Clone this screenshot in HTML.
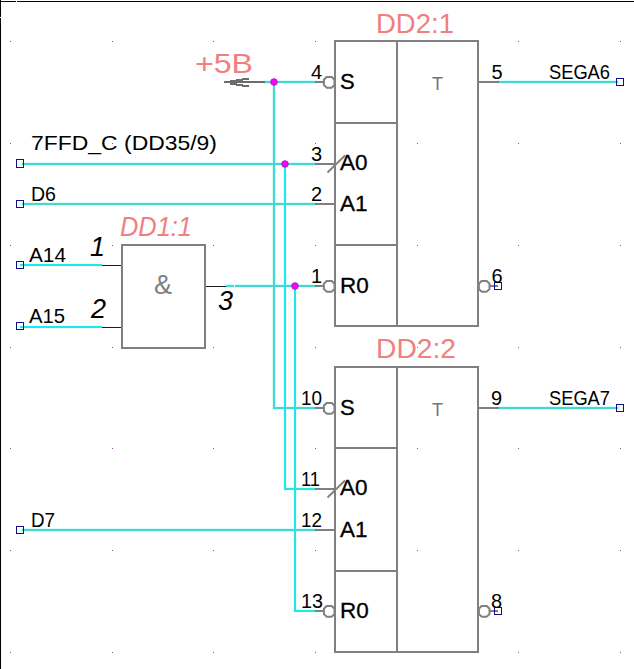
<!DOCTYPE html>
<html><head><meta charset="utf-8"><title>schematic</title>
<style>
html,body{margin:0;padding:0;background:#fff;}
body{width:634px;height:669px;overflow:hidden;font-family:"Liberation Sans",sans-serif;}
svg{display:block;font-family:"Liberation Sans",sans-serif;}
</style></head><body>
<svg width="634" height="669" viewBox="0 0 634 669">
<rect width="634" height="669" fill="#fff"/>
<line x1="265" y1="82" x2="315" y2="82" stroke="#d9fcfc" stroke-width="4" stroke-linecap="square"/>
<line x1="274" y1="82" x2="274" y2="408" stroke="#d9fcfc" stroke-width="4" stroke-linecap="square"/>
<line x1="274" y1="408" x2="315" y2="408" stroke="#d9fcfc" stroke-width="4" stroke-linecap="square"/>
<line x1="22" y1="164" x2="315" y2="164" stroke="#d9fcfc" stroke-width="4" stroke-linecap="square"/>
<line x1="285" y1="164" x2="285" y2="489" stroke="#ecfefe" stroke-width="4" stroke-linecap="square"/>
<line x1="285" y1="489" x2="315" y2="489" stroke="#ecfefe" stroke-width="4" stroke-linecap="square"/>
<line x1="22" y1="204" x2="315" y2="204" stroke="#d9fcfc" stroke-width="4" stroke-linecap="square"/>
<line x1="226" y1="286" x2="315" y2="286" stroke="#d9fcfc" stroke-width="4" stroke-linecap="square"/>
<line x1="295" y1="286" x2="295" y2="611" stroke="#ecfefe" stroke-width="4" stroke-linecap="square"/>
<line x1="295" y1="611" x2="315" y2="611" stroke="#ecfefe" stroke-width="4" stroke-linecap="square"/>
<line x1="22" y1="530" x2="315" y2="530" stroke="#d9fcfc" stroke-width="4" stroke-linecap="square"/>
<line x1="20" y1="265" x2="102" y2="265" stroke="#ecfefe" stroke-width="4" stroke-linecap="square"/>
<line x1="20" y1="327" x2="102" y2="327" stroke="#ecfefe" stroke-width="4" stroke-linecap="square"/>
<line x1="499" y1="82" x2="618" y2="82" stroke="#d9fcfc" stroke-width="4" stroke-linecap="square"/>
<line x1="499" y1="408" x2="618" y2="408" stroke="#d9fcfc" stroke-width="4" stroke-linecap="square"/>
<rect x="0" y="0" width="1" height="669" fill="#000"/>
<rect x="0" y="1" width="634" height="1" fill="#000"/>
<rect x="16" y="1" width="1" height="1" fill="#fff"/>
<rect x="0" y="17" width="1" height="1" fill="#fff"/>
<rect x="10" y="41" width="1" height="1" fill="#9440a4"/>
<rect x="10" y="143" width="1" height="1" fill="#9440a4"/>
<rect x="10" y="245" width="1" height="1" fill="#9440a4"/>
<rect x="10" y="347" width="1" height="1" fill="#9440a4"/>
<rect x="10" y="448" width="1" height="1" fill="#9440a4"/>
<rect x="10" y="550" width="1" height="1" fill="#9440a4"/>
<rect x="10" y="652" width="1" height="1" fill="#9440a4"/>
<rect x="112" y="41" width="1" height="1" fill="#9440a4"/>
<rect x="112" y="143" width="1" height="1" fill="#9440a4"/>
<rect x="112" y="245" width="1" height="1" fill="#9440a4"/>
<rect x="112" y="347" width="1" height="1" fill="#9440a4"/>
<rect x="112" y="448" width="1" height="1" fill="#9440a4"/>
<rect x="112" y="550" width="1" height="1" fill="#9440a4"/>
<rect x="112" y="652" width="1" height="1" fill="#9440a4"/>
<rect x="213" y="41" width="1" height="1" fill="#9440a4"/>
<rect x="213" y="143" width="1" height="1" fill="#9440a4"/>
<rect x="213" y="245" width="1" height="1" fill="#9440a4"/>
<rect x="213" y="347" width="1" height="1" fill="#9440a4"/>
<rect x="213" y="448" width="1" height="1" fill="#9440a4"/>
<rect x="213" y="550" width="1" height="1" fill="#9440a4"/>
<rect x="213" y="652" width="1" height="1" fill="#9440a4"/>
<rect x="315" y="41" width="1" height="1" fill="#9440a4"/>
<rect x="315" y="143" width="1" height="1" fill="#9440a4"/>
<rect x="315" y="245" width="1" height="1" fill="#9440a4"/>
<rect x="315" y="347" width="1" height="1" fill="#9440a4"/>
<rect x="315" y="448" width="1" height="1" fill="#9440a4"/>
<rect x="315" y="550" width="1" height="1" fill="#9440a4"/>
<rect x="315" y="652" width="1" height="1" fill="#9440a4"/>
<rect x="417" y="41" width="1" height="1" fill="#9440a4"/>
<rect x="417" y="143" width="1" height="1" fill="#9440a4"/>
<rect x="417" y="245" width="1" height="1" fill="#9440a4"/>
<rect x="417" y="347" width="1" height="1" fill="#9440a4"/>
<rect x="417" y="448" width="1" height="1" fill="#9440a4"/>
<rect x="417" y="550" width="1" height="1" fill="#9440a4"/>
<rect x="417" y="652" width="1" height="1" fill="#9440a4"/>
<rect x="518" y="41" width="1" height="1" fill="#9440a4"/>
<rect x="518" y="143" width="1" height="1" fill="#9440a4"/>
<rect x="518" y="245" width="1" height="1" fill="#9440a4"/>
<rect x="518" y="347" width="1" height="1" fill="#9440a4"/>
<rect x="518" y="448" width="1" height="1" fill="#9440a4"/>
<rect x="518" y="550" width="1" height="1" fill="#9440a4"/>
<rect x="518" y="652" width="1" height="1" fill="#9440a4"/>
<rect x="620" y="41" width="1" height="1" fill="#9440a4"/>
<rect x="620" y="143" width="1" height="1" fill="#9440a4"/>
<rect x="620" y="245" width="1" height="1" fill="#9440a4"/>
<rect x="620" y="347" width="1" height="1" fill="#9440a4"/>
<rect x="620" y="448" width="1" height="1" fill="#9440a4"/>
<rect x="620" y="550" width="1" height="1" fill="#9440a4"/>
<rect x="620" y="652" width="1" height="1" fill="#9440a4"/>
<line x1="265" y1="82" x2="315" y2="82" stroke="#48d6d3" stroke-width="2" shape-rendering="crispEdges"/>
<line x1="274" y1="81" x2="274" y2="409" stroke="#48d6d3" stroke-width="2" shape-rendering="crispEdges"/><line x1="274" y1="408" x2="315" y2="408" stroke="#48d6d3" stroke-width="2" shape-rendering="crispEdges"/>
<line x1="22" y1="164" x2="315" y2="164" stroke="#48d6d3" stroke-width="2" shape-rendering="crispEdges"/>
<line x1="285" y1="163" x2="285" y2="490" stroke="#1fe8ea" stroke-width="2" shape-rendering="crispEdges"/><line x1="285" y1="489" x2="315" y2="489" stroke="#1fe8ea" stroke-width="2" shape-rendering="crispEdges"/>
<line x1="22" y1="204" x2="315" y2="204" stroke="#48d6d3" stroke-width="2" shape-rendering="crispEdges"/>
<line x1="226" y1="286" x2="315" y2="286" stroke="#48d6d3" stroke-width="2" shape-rendering="crispEdges"/>
<line x1="295" y1="285" x2="295" y2="612" stroke="#1fe8ea" stroke-width="2" shape-rendering="crispEdges"/><line x1="295" y1="611" x2="315" y2="611" stroke="#1fe8ea" stroke-width="2" shape-rendering="crispEdges"/>
<line x1="22" y1="530" x2="315" y2="530" stroke="#48d6d3" stroke-width="2" shape-rendering="crispEdges"/>
<line x1="20" y1="265" x2="102" y2="265" stroke="#1fe8ea" stroke-width="2" shape-rendering="crispEdges"/>
<line x1="20" y1="327" x2="102" y2="327" stroke="#1fe8ea" stroke-width="2" shape-rendering="crispEdges"/>
<line x1="499" y1="82" x2="618" y2="82" stroke="#48d6d3" stroke-width="2" shape-rendering="crispEdges"/>
<line x1="499" y1="408" x2="618" y2="408" stroke="#48d6d3" stroke-width="2" shape-rendering="crispEdges"/>
<rect x="335" y="41" width="143" height="285" fill="none" stroke="#808080" stroke-width="2" shape-rendering="crispEdges"/><line x1="397" y1="41" x2="397" y2="326" stroke="#808080" stroke-width="2" shape-rendering="crispEdges"/><line x1="335" y1="123" x2="397" y2="123" stroke="#808080" stroke-width="2" shape-rendering="crispEdges"/><line x1="335" y1="245" x2="397" y2="245" stroke="#808080" stroke-width="2" shape-rendering="crispEdges"/><line x1="315" y1="82" x2="324" y2="82" stroke="#808080" stroke-width="2" shape-rendering="crispEdges"/><polygon points="334.50,79.75 331.80,77.05 326.60,77.05 323.90,79.75 323.90,84.95 326.60,87.65 331.80,87.65 334.50,84.95" fill="#fff" stroke="#808080" stroke-width="2" stroke-linejoin="round"/><line x1="315" y1="164" x2="335" y2="164" stroke="#808080" stroke-width="2" shape-rendering="crispEdges"/><line x1="327.5" y1="172.5" x2="345" y2="155.5" stroke="#808080" stroke-width="1.9"/><line x1="315" y1="204" x2="335" y2="204" stroke="#808080" stroke-width="2" shape-rendering="crispEdges"/><line x1="315" y1="286" x2="324" y2="286" stroke="#808080" stroke-width="2" shape-rendering="crispEdges"/><polygon points="334.50,283.75 331.80,281.05 326.60,281.05 323.90,283.75 323.90,288.95 326.60,291.65 331.80,291.65 334.50,288.95" fill="#fff" stroke="#808080" stroke-width="2" stroke-linejoin="round"/><line x1="478" y1="82" x2="499" y2="82" stroke="#808080" stroke-width="2" shape-rendering="crispEdges"/><polygon points="489.50,283.75 486.80,281.05 481.60,281.05 478.90,283.75 478.90,288.95 481.60,291.65 486.80,291.65 489.50,288.95" fill="#fff" stroke="#808080" stroke-width="2" stroke-linejoin="round"/><line x1="490" y1="286" x2="498" y2="286" stroke="#808080" stroke-width="2" shape-rendering="crispEdges"/>
<rect x="335" y="367" width="143" height="285" fill="none" stroke="#808080" stroke-width="2" shape-rendering="crispEdges"/><line x1="397" y1="367" x2="397" y2="652" stroke="#808080" stroke-width="2" shape-rendering="crispEdges"/><line x1="335" y1="448" x2="397" y2="448" stroke="#808080" stroke-width="2" shape-rendering="crispEdges"/><line x1="335" y1="571" x2="397" y2="571" stroke="#808080" stroke-width="2" shape-rendering="crispEdges"/><line x1="315" y1="408" x2="324" y2="408" stroke="#808080" stroke-width="2" shape-rendering="crispEdges"/><polygon points="334.50,405.75 331.80,403.05 326.60,403.05 323.90,405.75 323.90,410.95 326.60,413.65 331.80,413.65 334.50,410.95" fill="#fff" stroke="#808080" stroke-width="2" stroke-linejoin="round"/><line x1="315" y1="489" x2="335" y2="489" stroke="#808080" stroke-width="2" shape-rendering="crispEdges"/><line x1="327.5" y1="497.5" x2="345" y2="480.5" stroke="#808080" stroke-width="1.9"/><line x1="315" y1="530" x2="335" y2="530" stroke="#808080" stroke-width="2" shape-rendering="crispEdges"/><line x1="315" y1="611" x2="324" y2="611" stroke="#808080" stroke-width="2" shape-rendering="crispEdges"/><polygon points="334.50,608.75 331.80,606.05 326.60,606.05 323.90,608.75 323.90,613.95 326.60,616.65 331.80,616.65 334.50,613.95" fill="#fff" stroke="#808080" stroke-width="2" stroke-linejoin="round"/><line x1="478" y1="408" x2="499" y2="408" stroke="#808080" stroke-width="2" shape-rendering="crispEdges"/><polygon points="489.50,608.75 486.80,606.05 481.60,606.05 478.90,608.75 478.90,613.95 481.60,616.65 486.80,616.65 489.50,613.95" fill="#fff" stroke="#808080" stroke-width="2" stroke-linejoin="round"/><line x1="490" y1="611" x2="498" y2="611" stroke="#808080" stroke-width="2" shape-rendering="crispEdges"/>
<rect x="122" y="245" width="83" height="103" fill="none" stroke="#808080" stroke-width="2" shape-rendering="crispEdges"/>
<line x1="102" y1="265.5" x2="121" y2="265.5" stroke="#1a1a1a" stroke-width="1" shape-rendering="crispEdges"/>
<line x1="102" y1="327.5" x2="121" y2="327.5" stroke="#1a1a1a" stroke-width="1" shape-rendering="crispEdges"/>
<line x1="206" y1="286.5" x2="226" y2="286.5" stroke="#1a1a1a" stroke-width="1" shape-rendering="crispEdges"/>
<line x1="224" y1="82" x2="265" y2="82" stroke="#6c6c6c" stroke-width="2" shape-rendering="crispEdges"/>
<g fill="#6c6c6c" shape-rendering="crispEdges"><rect x="242" y="78" width="7" height="2"/><rect x="236" y="79" width="7" height="2"/><rect x="230" y="80" width="7" height="2"/><rect x="242" y="85" width="7" height="2"/><rect x="236" y="84" width="7" height="2"/><rect x="230" y="83" width="7" height="2"/></g>
<rect x="234" y="285" width="1" height="2" fill="#e6fdfd"/>
<circle cx="274" cy="82" r="3.3" fill="#fb04f6" stroke="#b412c0" stroke-width="0.9"/>
<circle cx="285" cy="164" r="3.3" fill="#fb04f6" stroke="#b412c0" stroke-width="0.9"/>
<circle cx="295" cy="286" r="3.3" fill="#fb04f6" stroke="#b412c0" stroke-width="0.9"/>
<rect x="16.5" y="159.5" width="7" height="8" fill="none" stroke="#10108c" stroke-width="1" shape-rendering="crispEdges"/>
<rect x="16.5" y="200.5" width="7" height="7" fill="none" stroke="#10108c" stroke-width="1" shape-rendering="crispEdges"/>
<rect x="16.5" y="261.5" width="7" height="7" fill="none" stroke="#10108c" stroke-width="1" shape-rendering="crispEdges"/>
<rect x="16.5" y="322.5" width="7" height="7" fill="none" stroke="#10108c" stroke-width="1" shape-rendering="crispEdges"/>
<rect x="16.5" y="526.5" width="7" height="7" fill="none" stroke="#10108c" stroke-width="1" shape-rendering="crispEdges"/>
<rect x="616.5" y="78.5" width="7" height="7" fill="none" stroke="#10108c" stroke-width="1" shape-rendering="crispEdges"/>
<rect x="616.5" y="404.5" width="7" height="7" fill="none" stroke="#10108c" stroke-width="1" shape-rendering="crispEdges"/>
<rect x="494.5" y="282.5" width="7" height="7" fill="none" stroke="#10108c" stroke-width="1" shape-rendering="crispEdges"/>
<rect x="494.5" y="607.5" width="7" height="7" fill="none" stroke="#10108c" stroke-width="1" shape-rendering="crispEdges"/>
<text x="376" y="32.6" font-size="28" fill="#f08080" textLength="78" lengthAdjust="spacingAndGlyphs">DD2:1</text>
<text x="376" y="357.8" font-size="28" fill="#f08080" textLength="80" lengthAdjust="spacingAndGlyphs">DD2:2</text>
<text x="195" y="72.6" font-size="28" fill="#f08080" textLength="58" lengthAdjust="spacingAndGlyphs">+5B</text>
<text x="120" y="235.6" font-size="28" font-style="italic" fill="#f08080" textLength="72" lengthAdjust="spacingAndGlyphs">DD1:1</text>
<text x="90" y="255.5" font-size="27" font-style="italic" fill="#000">1</text>
<text x="91" y="318.2" font-size="27" font-style="italic" fill="#000">2</text>
<text x="218" y="310.1" font-size="27" font-style="italic" fill="#000">3</text>
<text x="154" y="293.6" font-size="27" fill="#808080">&amp;</text>
<text x="437.5" y="90" font-size="18" fill="#747474" text-anchor="middle">T</text>
<text x="340" y="88.5" font-size="22" fill="#000" stroke="#000" stroke-width="0.3">S</text>
<text x="340" y="169.7" font-size="22.5" fill="#000" stroke="#000" stroke-width="0.3">A0</text>
<text x="340" y="210.7" font-size="22.5" fill="#000" stroke="#000" stroke-width="0.3">A1</text>
<text x="340" y="292.7" font-size="22.5" fill="#000" stroke="#000" stroke-width="0.3">R0</text>
<text x="437.5" y="416" font-size="18" fill="#747474" text-anchor="middle">T</text>
<text x="340" y="414.5" font-size="22" fill="#000" stroke="#000" stroke-width="0.3">S</text>
<text x="340" y="494.7" font-size="22.5" fill="#000" stroke="#000" stroke-width="0.3">A0</text>
<text x="340" y="536.7" font-size="22.5" fill="#000" stroke="#000" stroke-width="0.3">A1</text>
<text x="340" y="617.7" font-size="22.5" fill="#000" stroke="#000" stroke-width="0.3">R0</text>
<text x="31" y="150" font-size="21" fill="#000" textLength="186" lengthAdjust="spacingAndGlyphs">7FFD_C (DD35/9)</text>
<text x="31" y="201" font-size="21" fill="#000" textLength="25" lengthAdjust="spacingAndGlyphs">D6</text>
<text x="29" y="262" font-size="20" fill="#000" textLength="37" lengthAdjust="spacingAndGlyphs">A14</text>
<text x="29" y="323" font-size="20" fill="#000" textLength="36" lengthAdjust="spacingAndGlyphs">A15</text>
<text x="31" y="527" font-size="21" fill="#000" textLength="24" lengthAdjust="spacingAndGlyphs">D7</text>
<text x="549" y="79" font-size="21" fill="#000" textLength="61" lengthAdjust="spacingAndGlyphs">SEGA6</text>
<text x="549" y="405" font-size="21" fill="#000" textLength="61" lengthAdjust="spacingAndGlyphs">SEGA7</text>
<text x="311" y="79" font-size="20" fill="#000">4</text>
<text x="311" y="161" font-size="20" fill="#000">3</text>
<text x="311" y="201" font-size="20" fill="#000">2</text>
<text x="311" y="283" font-size="20" fill="#000">1</text>
<text x="301" y="405" font-size="20" fill="#000" textLength="21" lengthAdjust="spacingAndGlyphs">10</text>
<text x="301" y="486" font-size="20" fill="#000" textLength="19" lengthAdjust="spacingAndGlyphs">11</text>
<text x="301" y="527" font-size="20" fill="#000" textLength="21" lengthAdjust="spacingAndGlyphs">12</text>
<text x="301" y="608" font-size="20" fill="#000" textLength="22" lengthAdjust="spacingAndGlyphs">13</text>
<text x="491.5" y="79" font-size="20" fill="#000">5</text>
<text x="491.5" y="283" font-size="20" fill="#000">6</text>
<text x="491" y="405" font-size="20" fill="#000">9</text>
<text x="491" y="608" font-size="20" fill="#000">8</text>
</svg>
</body></html>
